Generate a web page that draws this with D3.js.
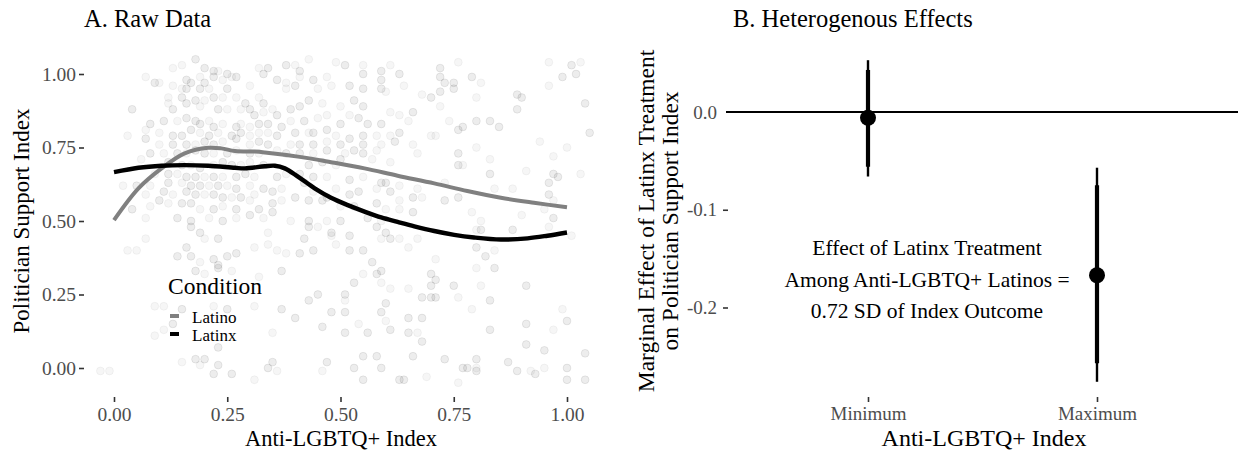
<!DOCTYPE html>
<html>
<head>
<meta charset="utf-8">
<script src="https://cdn.jsdelivr.net/npm/d3@7"></script>
<style>
  html, body { margin: 0; padding: 0; background: #fff; }
  svg { display: block; font-family: "Liberation Serif", "Times New Roman", serif; }
</style>
</head>
<body>
<svg id="chart" width="1238" height="454"></svg>
<script>
// ---- Panel A: respondents [anti-LGBTQ+ index, politician support index, condition (1 = Latinx, 0 = Latino)]
const respondents = [
[0.18,1.05,1],[0.15,1.03,0],[0.13,1.02,0],[0.20,1.02,1],[0.22,1.01,1],[0.23,1.01,0],[0.25,1.00,1],[0.26,0.99,0],[0.27,0.99,1],[0.30,0.96,0],
[0.32,1.02,0],[0.33,1.00,1],[0.07,0.99,0],[0.09,0.97,1],[0.10,0.97,0],[0.13,0.96,0],[0.16,0.98,1],[0.17,0.97,1],[0.19,0.99,0],[0.20,0.97,1],
[0.22,0.99,1],[0.24,0.98,0],[0.19,0.95,1],[0.15,0.95,0],[0.16,0.95,1],[0.21,0.95,0],[0.25,0.95,1],[0.12,0.92,0],[0.15,0.92,1],[0.18,0.91,1],
[0.20,0.91,0],[0.22,0.92,1],[0.24,0.92,0],[0.27,0.92,0],[0.29,0.90,1],[0.30,0.88,1],[0.32,0.92,0],[0.33,0.90,1],[0.04,0.88,1],[0.12,0.90,0],
[0.13,0.88,1],[0.16,0.90,1],[0.19,0.89,0],[0.23,0.88,1],[0.25,0.88,0],[0.28,0.88,0],[0.31,0.86,1],[0.33,0.87,0],[0.08,0.83,1],[0.07,0.81,0],
[0.11,0.84,1],[0.14,0.84,0],[0.16,0.85,1],[0.18,0.84,1],[0.19,0.83,1],[0.21,0.84,0],[0.22,0.82,1],[0.24,0.83,0],[0.27,0.82,1],[0.28,0.83,0],
[0.30,0.82,0],[0.32,0.83,1],[0.03,0.79,0],[0.07,0.78,1],[0.10,0.80,0],[0.13,0.79,1],[0.15,0.79,1],[0.17,0.81,1],[0.19,0.80,0],[0.21,0.79,1],
[0.23,0.80,0],[0.26,0.79,1],[0.28,0.80,1],[0.30,0.79,0],[0.32,0.80,0],[0.10,0.76,0],[0.13,0.76,1],[0.16,0.76,1],[0.18,0.76,0],[0.20,0.77,1],
[0.22,0.76,1],[0.24,0.77,0],[0.27,0.78,1],[0.30,0.76,0],[0.32,0.77,1],[0.06,0.71,0],[0.08,0.73,1],[0.11,0.73,0],[0.14,0.73,1],[0.16,0.73,0],
[0.18,0.74,1],[0.20,0.73,1],[0.22,0.73,0],[0.25,0.73,1],[0.27,0.74,0],[0.30,0.73,1],[0.32,0.73,0],[0.12,0.70,1],[0.15,0.69,1],[0.17,0.69,0],
[0.19,0.68,1],[0.22,0.69,0],[0.24,0.70,1],[0.26,0.69,1],[0.28,0.69,0],[0.30,0.70,0],[0.33,0.69,1],[0.09,0.66,0],[0.12,0.66,1],[0.14,0.66,0],
[0.16,0.65,1],[0.18,0.65,1],[0.20,0.65,0],[0.22,0.65,1],[0.24,0.65,0],[0.27,0.65,1],[0.29,0.66,1],[0.31,0.65,0],[0.02,0.62,0],[0.05,0.62,1],
[0.08,0.62,0],[0.12,0.63,1],[0.15,0.63,0],[0.17,0.62,1],[0.19,0.62,1],[0.21,0.62,0],[0.23,0.62,1],[0.25,0.62,0],[0.27,0.61,1],[0.30,0.62,0],
[0.33,0.61,1],[0.07,0.59,0],[0.11,0.60,1],[0.13,0.59,0],[0.16,0.60,1],[0.18,0.59,1],[0.20,0.59,0],[0.22,0.59,1],[0.24,0.58,1],[0.26,0.58,0],
[0.28,0.58,1],[0.31,0.59,0],[0.04,0.54,1],[0.08,0.55,0],[0.10,0.57,1],[0.12,0.56,0],[0.15,0.56,1],[0.17,0.56,1],[0.19,0.54,0],[0.22,0.54,1],
[0.24,0.55,0],[0.27,0.54,1],[0.30,0.57,0],[0.32,0.54,1],[0.07,0.51,0],[0.14,0.51,1],[0.17,0.50,1],[0.21,0.51,0],[0.24,0.50,1],[0.27,0.51,0],
[0.30,0.52,1],[0.33,0.51,0],
[0.43,1.05,0],[0.49,1.04,0],[0.51,1.03,1],[0.55,1.03,0],[0.59,1.01,1],[0.61,1.03,0],[0.63,1.00,1],[0.38,1.03,1],[0.40,1.03,0],[0.34,1.02,1],
[0.41,1.01,1],[0.41,0.99,0],[0.44,0.98,1],[0.47,0.99,0],[0.55,1.00,1],[0.59,0.98,1],[0.38,0.97,0],[0.36,0.98,1],[0.40,0.96,1],[0.45,0.95,0],
[0.48,0.96,0],[0.52,0.96,1],[0.55,0.95,1],[0.59,0.95,1],[0.60,0.94,0],[0.68,0.93,0],[0.70,0.92,1],[0.64,0.96,0],[0.38,0.95,0],[0.43,0.91,1],
[0.46,0.90,0],[0.53,0.91,1],[0.50,0.89,0],[0.55,0.89,1],[0.35,0.88,0],[0.36,0.86,1],[0.39,0.88,1],[0.41,0.89,1],[0.47,0.86,0],[0.42,0.84,1],
[0.39,0.84,0],[0.37,0.82,1],[0.45,0.85,0],[0.50,0.83,1],[0.52,0.86,0],[0.56,0.83,1],[0.59,0.83,1],[0.61,0.87,0],[0.63,0.86,0],[0.66,0.87,1],
[0.65,0.84,0],[0.54,0.85,1],[0.34,0.83,1],[0.34,0.80,0],[0.36,0.79,1],[0.40,0.80,1],[0.43,0.80,0],[0.44,0.80,1],[0.47,0.81,1],[0.49,0.79,0],
[0.52,0.78,1],[0.55,0.79,1],[0.58,0.79,0],[0.61,0.79,0],[0.63,0.80,1],[0.70,0.79,0],[0.34,0.76,1],[0.39,0.76,0],[0.41,0.76,1],[0.44,0.76,1],
[0.47,0.77,0],[0.50,0.76,1],[0.55,0.76,1],[0.59,0.76,0],[0.62,0.77,1],[0.66,0.76,0],[0.36,0.74,0],[0.38,0.73,1],[0.41,0.73,1],[0.44,0.73,0],
[0.47,0.74,1],[0.51,0.73,0],[0.53,0.74,1],[0.55,0.73,1],[0.58,0.74,0],[0.67,0.73,0],[0.43,0.69,1],[0.46,0.70,1],[0.49,0.69,0],[0.50,0.71,1],
[0.57,0.71,0],[0.61,0.70,0],[0.36,0.65,1],[0.38,0.66,0],[0.41,0.66,1],[0.44,0.65,1],[0.47,0.65,0],[0.52,0.64,1],[0.55,0.65,0],[0.59,0.63,1],
[0.60,0.63,1],[0.63,0.62,0],[0.67,0.61,0],[0.35,0.60,1],[0.37,0.61,0],[0.40,0.58,1],[0.42,0.63,1],[0.44,0.60,0],[0.47,0.58,1],[0.49,0.61,0],
[0.52,0.59,1],[0.54,0.60,1],[0.58,0.61,0],[0.61,0.60,1],[0.63,0.57,0],[0.66,0.58,1],[0.68,0.58,0],[0.35,0.56,1],[0.37,0.57,0],[0.43,0.57,1],
[0.46,0.57,1],[0.50,0.55,0],[0.53,0.55,1],[0.58,0.56,1],[0.60,0.54,0],[0.63,0.54,0],[0.66,0.53,1],[0.39,0.50,0],[0.43,0.50,1],[0.47,0.50,0],
[0.50,0.50,1],[0.56,0.51,1],[0.59,0.50,0],[0.35,0.53,1],
[0.76,1.04,0],[0.72,1.02,1],[0.72,0.99,1],[0.73,0.97,1],[0.75,0.97,1],[0.75,0.95,1],[0.72,0.94,1],[0.79,0.99,1],[0.81,0.97,0],[0.72,0.89,0],
[0.80,0.92,0],[0.96,1.04,0],[1.01,1.03,1],[1.03,1.04,0],[0.99,0.99,1],[1.02,1.00,1],[0.96,0.96,0],[0.89,0.93,1],[0.90,0.92,1],[0.89,0.88,1],
[1.04,0.90,1],[0.74,0.84,0],[0.76,0.81,1],[0.77,0.82,1],[0.80,0.84,1],[0.83,0.84,1],[0.85,0.82,1],[0.71,0.79,0],[1.05,0.80,1],[0.94,0.77,0],
[1.00,0.75,0],[0.80,0.75,0],[0.76,0.73,1],[0.83,0.71,0],[0.97,0.72,0],[0.76,0.69,1],[0.77,0.69,0],[0.91,0.67,0],[0.83,0.66,1],[0.97,0.66,1],
[0.98,0.65,1],[0.96,0.63,1],[1.03,0.66,0],[0.73,0.63,0],[0.84,0.61,0],[0.88,0.61,0],[0.96,0.59,1],[0.97,0.57,0],[0.73,0.57,1],[0.76,0.58,1],
[0.95,0.54,0],[0.79,0.53,0],[0.81,0.50,0],[0.90,0.52,0],[0.97,0.51,1],
[0.17,0.48,1],[0.19,0.46,1],[0.23,0.44,1],[0.20,0.44,0],[0.07,0.44,0],[0.03,0.40,0],[0.05,0.40,0],[0.16,0.41,1],[0.14,0.38,1],[0.17,0.38,1],
[0.19,0.36,0],[0.22,0.37,1],[0.23,0.35,1],[0.25,0.38,1],[0.27,0.39,1],[0.23,0.34,1],[0.26,0.33,0],[0.31,0.41,0],[0.18,0.33,1],[0.20,0.32,0],
[0.32,0.31,0],[0.09,0.21,0],[0.11,0.21,0],[0.15,0.20,1],[0.22,0.21,0],[0.25,0.20,1],[0.31,0.21,0],[0.09,0.11,0],[0.11,0.13,0],[0.13,0.15,1],
[-0.01,-0.01,0],[0.15,0.02,0],[0.18,0.03,1],[0.20,0.03,1],[0.19,0.01,0],[0.23,0.01,1],[0.22,-0.02,1],[0.26,-0.02,1],[0.31,-0.04,0],[0.23,0.07,1],
[-0.03,-0.01,0],
[0.34,0.46,0],[0.34,0.42,0],[0.42,0.44,1],[0.43,0.48,1],[0.45,0.48,0],[0.48,0.45,0],[0.49,0.42,0],[0.48,0.46,1],[0.52,0.45,1],[0.52,0.40,1],
[0.55,0.40,1],[0.58,0.48,1],[0.60,0.46,1],[0.59,0.44,0],[0.61,0.44,1],[0.63,0.44,0],[0.65,0.41,0],[0.67,0.44,0],[0.36,0.40,0],[0.38,0.39,0],
[0.41,0.39,1],[0.44,0.40,1],[0.37,0.33,1],[0.53,0.29,1],[0.55,0.32,0],[0.57,0.36,1],[0.58,0.32,1],[0.59,0.33,1],[0.59,0.29,0],[0.61,0.27,0],
[0.65,0.27,0],[0.70,0.32,1],[0.70,0.28,1],[0.68,0.24,1],[0.70,0.24,1],[0.43,0.23,1],[0.45,0.25,1],[0.51,0.25,1],[0.51,0.23,0],[0.60,0.22,1],
[0.37,0.20,1],[0.40,0.17,1],[0.48,0.19,1],[0.51,0.19,1],[0.59,0.19,1],[0.60,0.16,0],[0.54,0.15,0],[0.46,0.14,1],[0.51,0.12,1],[0.56,0.12,1],
[0.61,0.13,1],[0.65,0.17,1],[0.68,0.17,1],[0.65,0.12,1],[0.67,0.12,0],[0.68,0.09,1],[0.55,0.04,1],[0.58,0.04,1],[0.66,0.04,1],[0.35,0.02,1],
[0.34,0.00,1],[0.36,-0.01,0],[0.47,0.02,1],[0.46,-0.01,0],[0.53,0.00,1],[0.59,0.00,1],[0.55,-0.04,1],[0.63,-0.04,1],[0.64,-0.04,1],[0.69,-0.03,0],
[0.35,0.12,0],
[0.80,0.47,0],[0.81,0.47,1],[0.88,0.47,1],[0.96,0.48,0],[1.01,0.45,0],[0.80,0.41,1],[0.82,0.38,1],[0.84,0.40,0],[0.80,0.34,0],[0.84,0.34,1],
[0.71,0.37,0],[0.71,0.30,1],[0.75,0.28,1],[0.81,0.28,0],[0.91,0.28,1],[0.76,0.24,0],[0.71,0.24,1],[0.83,0.23,1],[0.79,0.20,0],[0.99,0.20,0],
[1.00,0.16,1],[0.91,0.15,1],[0.97,0.13,0],[0.83,0.13,1],[0.91,0.08,1],[0.95,0.06,1],[1.04,0.05,1],[0.73,0.03,1],[0.80,0.03,1],[0.77,0.00,1],
[0.78,0.00,1],[0.80,0.00,0],[0.80,-0.01,1],[0.87,0.02,1],[0.89,-0.01,1],[0.92,-0.01,0],[0.93,-0.02,1],[0.95,0.00,0],[1.00,0.00,1],[1.00,-0.04,1],
[1.04,-0.04,1],[0.76,-0.05,0]
];

// Loess fits by condition
const latinoFitX = [0, 0.054, 0.105, 0.156, 0.208, 0.237, 0.267, 0.311, 0.333, 0.406, 0.479, 0.553, 0.626, 0.707, 0.780, 0.854, 0.927, 1.0];
const latinoFitY = [0.503, 0.611, 0.679, 0.730, 0.749, 0.747, 0.738, 0.736, 0.733, 0.719, 0.700, 0.679, 0.654, 0.628, 0.602, 0.579, 0.562, 0.547];
const latinxFitX = [0, 0.054, 0.105, 0.156, 0.208, 0.267, 0.289, 0.333, 0.355, 0.377, 0.406, 0.443, 0.479, 0.516, 0.553, 0.590, 0.626, 0.663, 0.707, 0.751, 0.795, 0.854, 0.913, 0.957, 1.0];
const latinxFitY = [0.666, 0.681, 0.688, 0.690, 0.688, 0.681, 0.679, 0.686, 0.688, 0.679, 0.651, 0.611, 0.579, 0.554, 0.532, 0.512, 0.497, 0.482, 0.466, 0.453, 0.444, 0.437, 0.441, 0.450, 0.461];

const ticksA = [0, 0.25, 0.5, 0.75, 1];
const conditions = ["Latino", "Latinx"];

// ---- Panel B: marginal effect of the Latinx treatment
const levels = ["Minimum", "Maximum"];
const effect = [-0.006, -0.167];
const ci90Low = [-0.056, -0.257];
const ci90High = [0.043, -0.075];
const ci95Low = [-0.066, -0.276];
const ci95High = [0.053, -0.057];
const ticksB = [0, -0.1, -0.2];
const noteLines = ["Effect of Latinx Treatment", "Among Anti-LGBTQ+ Latinos =", "0.72 SD of Index Outcome"];

const svg = d3.select("#chart");
const serif = "'Liberation Serif', 'Times New Roman', serif";
const tickColor = "#4d4d4d";
const condColor = { Latino: "#808080", Latinx: "#000000" };

// ================= Panel A =================
const xA = d3.scaleLinear().domain([0, 1]).range([114, 567]);
const yA = d3.scaleLinear().domain([0, 1]).range([368, 74]);
const gA = svg.append("g");

gA.append("text").attr("x", 84).attr("y", 27).attr("font-size", 24.5).text("A. Raw Data");

// points
gA.append("g").selectAll("circle").data(respondents).join("circle")
  .attr("cx", d => xA(d[0])).attr("cy", d => yA(d[1])).attr("r", 3.9)
  .attr("fill", d => d[2] ? condColor.Latinx : condColor.Latino)
  .attr("fill-opacity", 0.07)
  .attr("stroke", d => d[2] ? condColor.Latinx : condColor.Latino)
  .attr("stroke-opacity", 0.08)
  .attr("stroke-width", 1);

const lineA = d3.line().x(d => xA(d[0])).y(d => yA(d[1])).curve(d3.curveCatmullRom.alpha(0.5));
gA.append("path").datum(latinoFitX.map((v, i) => [v, latinoFitY[i]]))
  .attr("d", lineA).attr("fill", "none").attr("stroke", condColor.Latino).attr("stroke-width", 4);
gA.append("path").datum(latinxFitX.map((v, i) => [v, latinxFitY[i]]))
  .attr("d", lineA).attr("fill", "none").attr("stroke", condColor.Latinx).attr("stroke-width", 4.4);

// axes
const axA_y = gA.append("g").attr("transform", "translate(84,0)")
  .call(d3.axisLeft(yA).tickValues(ticksA).tickFormat(d3.format(".2f")).tickSize(5).tickPadding(3));
const axA_x = gA.append("g").attr("transform", "translate(0,397)")
  .call(d3.axisBottom(xA).tickValues(ticksA).tickFormat(d3.format(".2f")).tickSize(5).tickPadding(5));
[axA_y, axA_x].forEach(ax => {
  ax.select(".domain").remove();
  ax.selectAll("line").attr("stroke", "#333").attr("stroke-width", 1.6);
  ax.selectAll("text").attr("fill", tickColor).attr("font-size", 19.5).attr("font-family", serif);
});

gA.append("text").attr("x", 341).attr("y", 446).attr("text-anchor", "middle").attr("font-size", 22.5).text("Anti-LGBTQ+ Index");
gA.append("text").attr("transform", "translate(29,221) rotate(-90)").attr("text-anchor", "middle").attr("font-size", 23).text("Politician Support Index");

// legend
const leg = gA.append("g");
leg.append("text").attr("x", 168).attr("y", 294).attr("font-size", 23.5).text("Condition");
conditions.forEach((c, i) => {
  const cy = 316 + i * 18;
  leg.append("line").attr("x1", 170).attr("x2", 179).attr("y1", cy).attr("y2", cy)
    .attr("stroke", condColor[c]).attr("stroke-width", 4);
  leg.append("text").attr("x", 192).attr("y", cy + 6.5).attr("font-size", 17).attr("font-family", serif).text(c);
});

// ================= Panel B =================
const xB = d3.scalePoint().domain(levels).range([868, 1097]);
const yB = d3.scaleLinear().domain([0, -0.2]).range([112, 307.5]);
const gB = svg.append("g");

gB.append("text").attr("x", 733).attr("y", 27).attr("font-size", 24.5).text("B. Heterogenous Effects");

gB.append("line").attr("x1", 726).attr("x2", 1238).attr("y1", yB(0)).attr("y2", yB(0))
  .attr("stroke", "#000").attr("stroke-width", 2);

levels.forEach((lv, i) => {
  gB.append("line").attr("x1", xB(lv)).attr("x2", xB(lv))
    .attr("y1", yB(ci95High[i])).attr("y2", yB(ci95Low[i]))
    .attr("stroke", "#000").attr("stroke-width", 2.4);
  gB.append("line").attr("x1", xB(lv)).attr("x2", xB(lv))
    .attr("y1", yB(ci90High[i])).attr("y2", yB(ci90Low[i]))
    .attr("stroke", "#000").attr("stroke-width", 4.2);
  gB.append("circle").attr("cx", xB(lv)).attr("cy", yB(effect[i])).attr("r", 8).attr("fill", "#000");
});

const axB_y = gB.append("g").attr("transform", "translate(728,0)")
  .call(d3.axisLeft(yB).tickValues(ticksB).tickFormat(d => d.toFixed(1)).tickSize(5).tickPadding(6));
const axB_x = gB.append("g").attr("transform", "translate(0,397)")
  .call(d3.axisBottom(xB).tickSize(5).tickPadding(5));
[axB_y, axB_x].forEach(ax => {
  ax.select(".domain").remove();
  ax.selectAll("line").attr("stroke", "#333").attr("stroke-width", 1.6);
  ax.selectAll("text").attr("fill", tickColor).attr("font-size", 19).attr("font-family", serif);
});
axB_y.selectAll(".tick").filter(d => d === 0).select("line").remove();

noteLines.forEach((t, i) => {
  gB.append("text").attr("x", 927).attr("y", 255 + i * 31.5).attr("text-anchor", "middle")
    .attr("font-size", 21.5).text(t);
});

gB.append("text").attr("x", 984).attr("y", 446).attr("text-anchor", "middle").attr("font-size", 24).text("Anti-LGBTQ+ Index");
const yTitleB = gB.append("text").attr("transform", "translate(654,221) rotate(-90)").attr("text-anchor", "middle").attr("font-size", 23.5);
yTitleB.append("tspan").attr("x", 0).attr("dy", 0).text("Marginal Effect of Latinx Treatment");
yTitleB.append("tspan").attr("x", 0).attr("dy", 24).text("on Politician Support Index");
</script>
</body>
</html>
